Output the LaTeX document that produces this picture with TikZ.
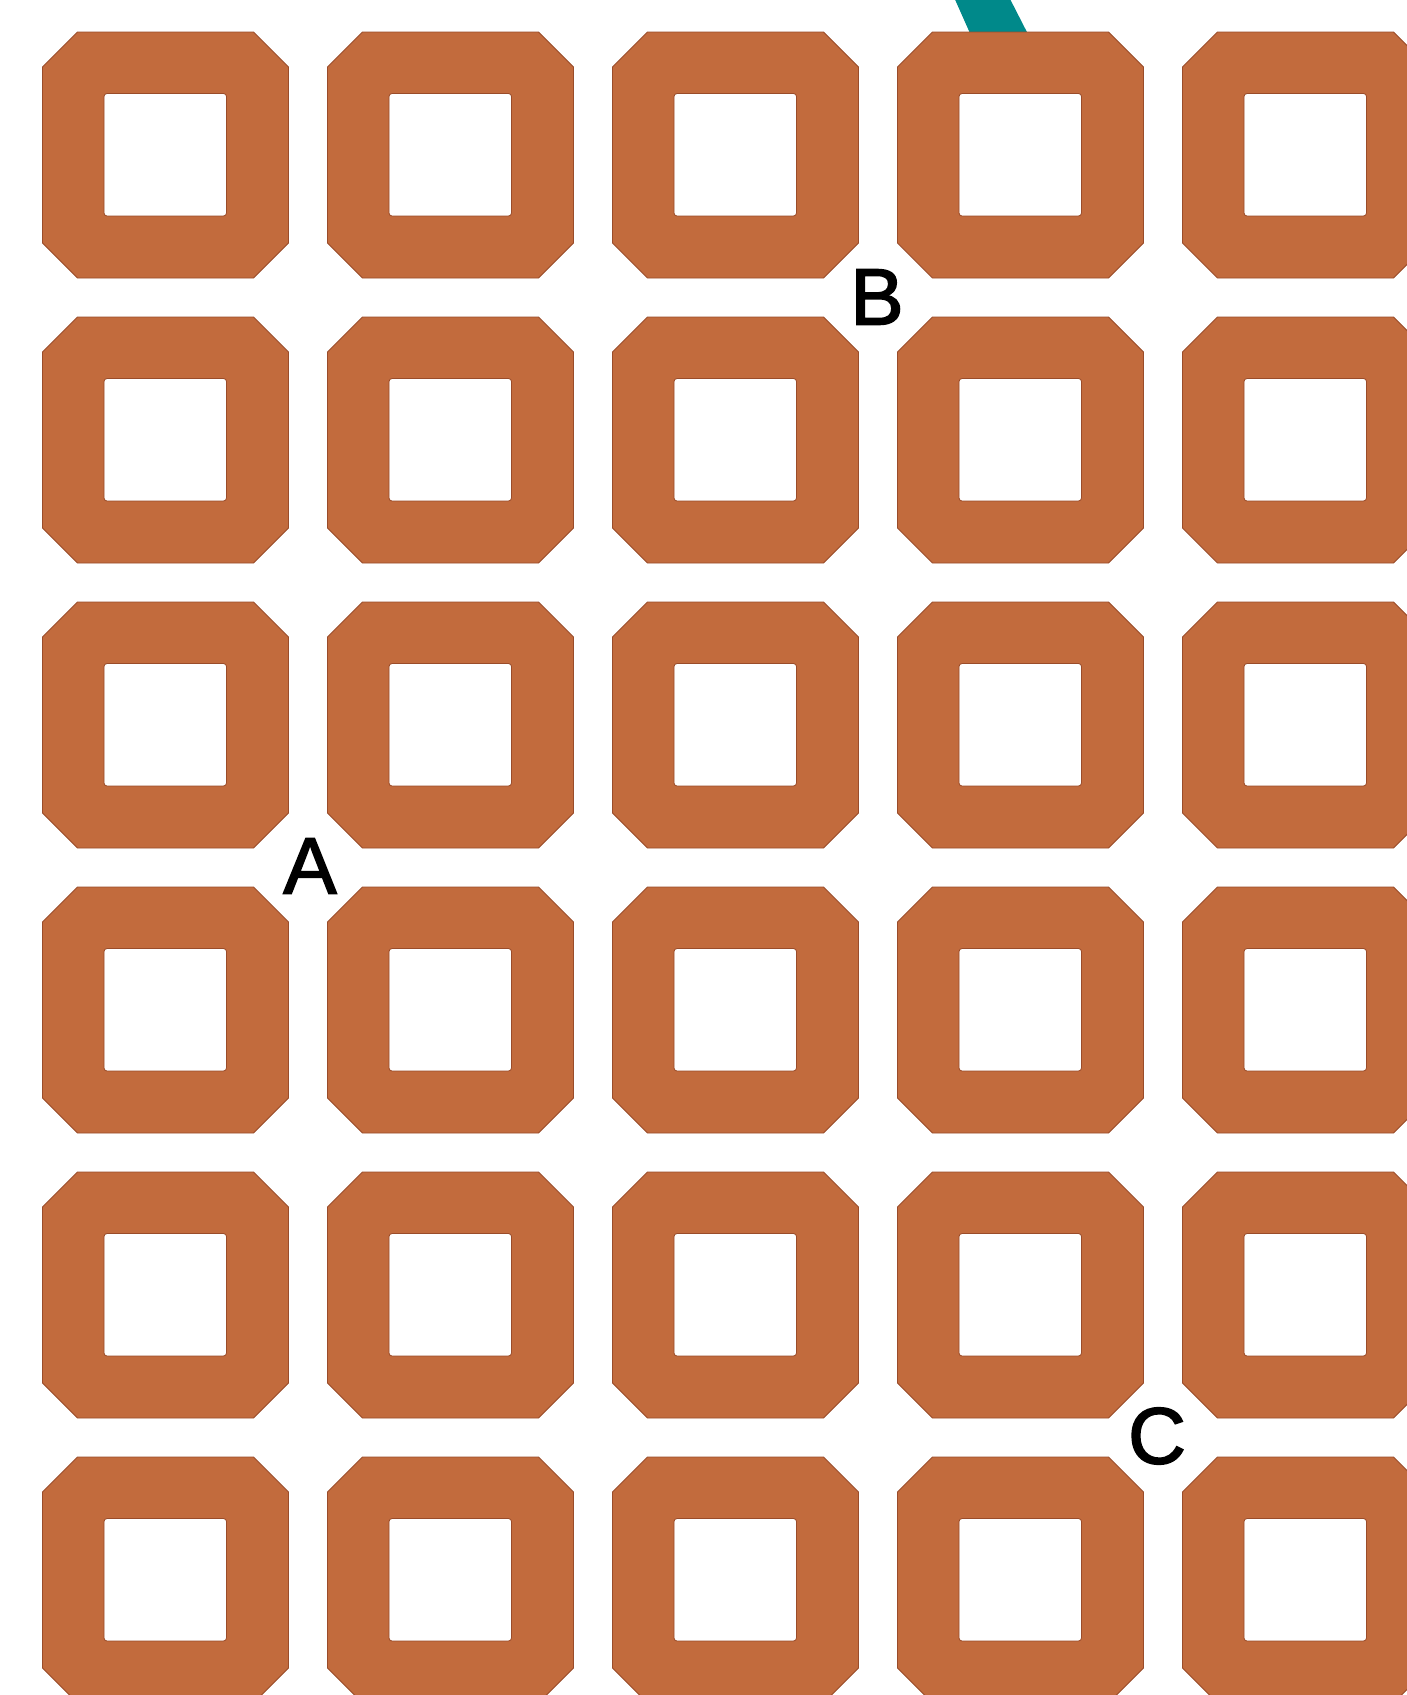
\documentclass[tikz,border=0pt]{standalone}
\usepackage{fontspec}
\setmainfont{Liberation Sans}
\newfontfamily\lblfont{Liberation Sans}[FakeBold=2]
\definecolor{tilefill}{HTML}{C26B3D}
\definecolor{tileedge}{HTML}{9A4C2A}
\definecolor{stripeteal}{HTML}{00898A}
\begin{document}
\begin{tikzpicture}[x=1pt,y=-1pt,
  tile/.style={fill=tilefill, draw=tileedge, line width=0.8pt, even odd rule},
  lbl/.style={font=\lblfont\fontsize{80}{80}\selectfont, inner sep=0pt, text=black}]
\useasboundingbox (0,0) rectangle (1407,1695);
\clip (0,0) rectangle (1407,1695);
\fill[white] (0,0) rectangle (1407,1695);
% teal stripe behind the tiles
\fill[stripeteal] (953,-5) -- (1008,-5) -- (1031,40) -- (973,40) -- cycle;
% grid of chamfered tiles with square holes
\foreach \i in {0,...,4}{
  \foreach \j in {0,...,5}{
    \begin{scope}[shift={(42.5+285*\i,32+285*\j)}]
      \path[tile] (35,0) -- (211,0) -- (246,35) -- (246,211) -- (211,246)
        -- (35,246) -- (0,211) -- (0,35) -- cycle
        [rounded corners=3pt] (61.5,61.5) rectangle (184,184);
    \end{scope}
  }
}
\node[lbl] (A) at (310,866) {A};
\node[lbl] (B) at (877,297) {B};
\node[lbl] (C) at (1157,1436) {C};
\end{tikzpicture}
\end{document}
